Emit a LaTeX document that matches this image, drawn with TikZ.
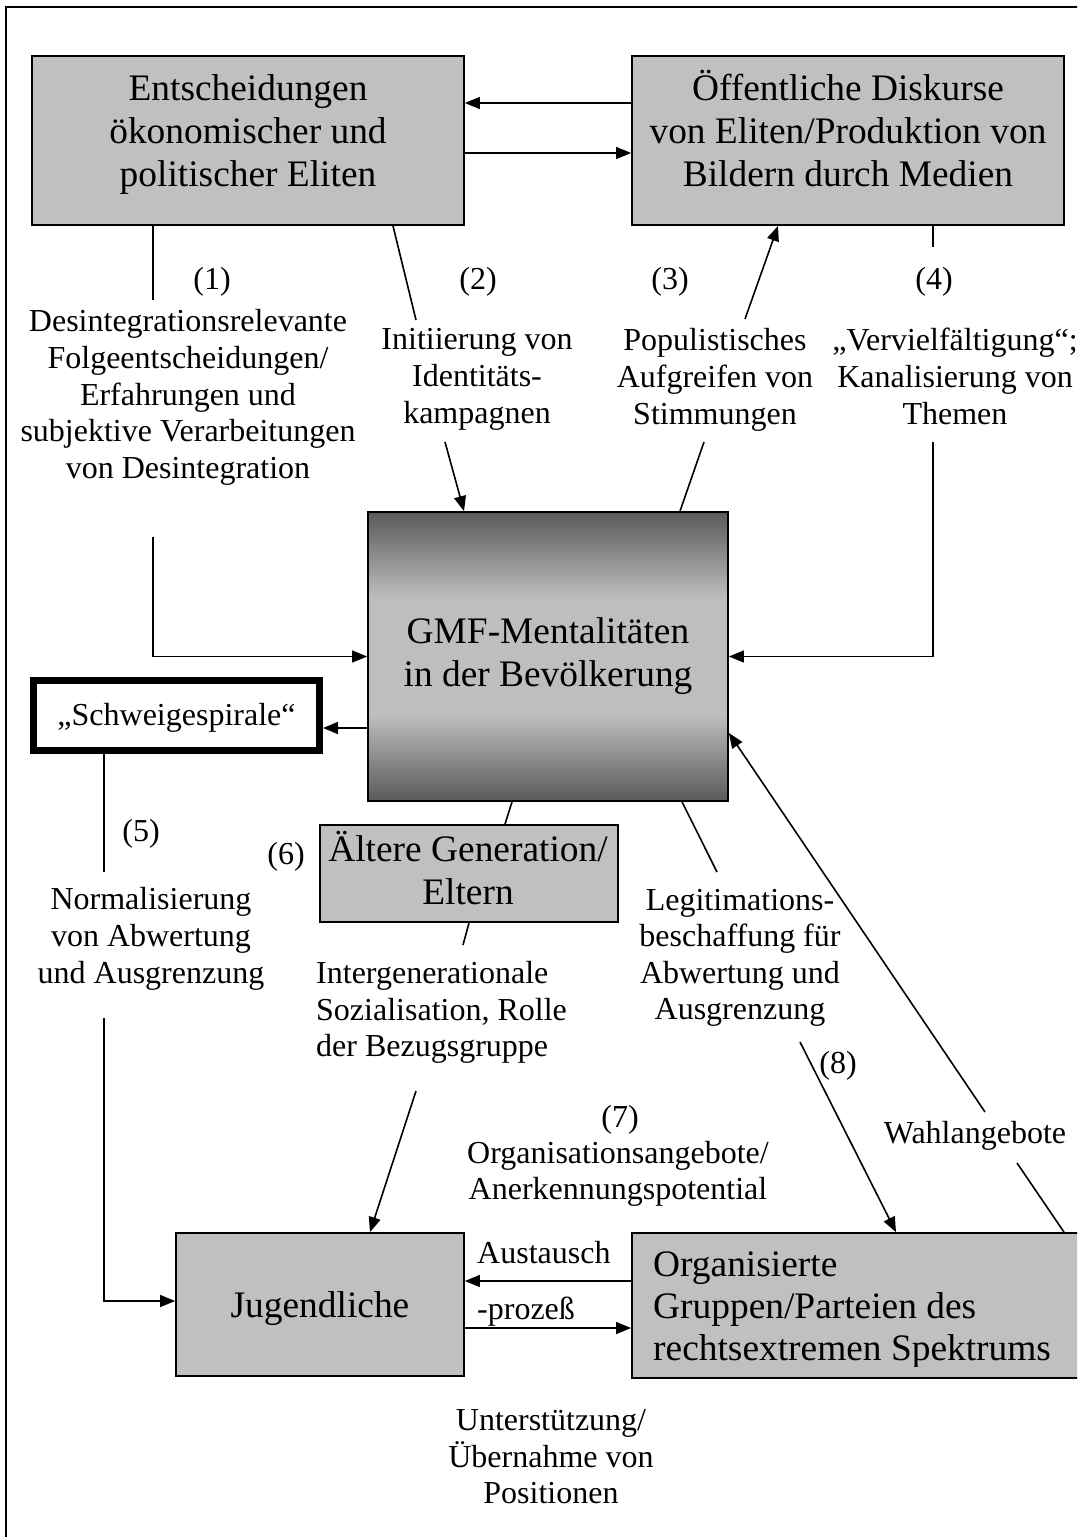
\documentclass[tikz,border=0pt]{standalone}
\usepackage{fontspec}
\setmainfont{Liberation Serif}
\usetikzlibrary{arrows.meta,calc}
\definecolor{boxgray}{HTML}{C0C0C0}
\definecolor{gdark}{HTML}{5A5A5A}
\definecolor{glight}{HTML}{BEBEBE}
\pgfdeclareverticalshading{gmfshade}{100bp}{color(0bp)=(gdark); color(25bp)=(gdark); color(40bp)=(glight); color(60bp)=(glight); color(75bp)=(gdark); color(100bp)=(gdark)}
\newcommand{\labfont}{\fontsize{32}{36.6}\selectfont}
\newcommand{\boxfont}{\fontsize{37.4}{43}\selectfont}
\newcommand{\orgfont}{\fontsize{37.4}{42}\selectfont}
\newcommand{\mytop}{\rule{0pt}{0.95em}}
\newcommand{\mybot}{\rule[-0.3em]{0pt}{0.3em}}
\begin{document}
\begin{tikzpicture}[x=1pt,y=-1pt,
  box/.style={draw, line width=1.8pt, fill=boxgray, inner sep=0pt},
  lab/.style={font=\labfont, align=center, inner sep=0pt},
  btx/.style={font=\boxfont, align=center, inner sep=0pt},
  con/.style={line width=1.6pt},
  arr/.style={line width=1.6pt, -{Triangle[length=15pt,width=12pt]}}]
\useasboundingbox (0,0) rectangle (1077,1537);
\fill[white] (0,0) rectangle (1077,1537);
\clip (0,0) rectangle (1077,1537);
\draw[line width=2pt] (6,1545) -- (6,7) -- (1085,7);

% boxes
\node[box, minimum width=432pt, minimum height=169pt] (b1) at (248,140.5) {};
\node[box, minimum width=432pt, minimum height=169pt] (b2) at (848,140.5) {};
\node[draw, line width=1.8pt, shade, shading=gmfshade, minimum width=360pt, minimum height=289pt, inner sep=0pt] (gmf) at (548,656.5) {};
\node[draw, line width=7pt, fill=white, minimum width=286pt, minimum height=70pt, inner sep=0pt, font=\labfont] (schw) at (176.5,715.5) {\mytop„Schweigespirale“\mybot};
\node[box, minimum width=298pt, minimum height=97pt] (alt) at (469,873.5) {};
\node[box, minimum width=288pt, minimum height=143pt] (jug) at (320,1304.5) {};
\node[box, minimum width=468pt, minimum height=145pt] (org) at (866,1305.5) {};

% box texts
\node[btx] (b1t) at (248,131.3) {\mytop Entscheidungen\\ökonomischer und\\politischer Eliten\mybot};
\node[btx] (b2t) at (848,131.3) {\mytop Öffentliche Diskurse\\von Eliten/Produktion von\\Bildern durch Medien\mybot};
\node[btx] (gmft) at (548,652.8) {\mytop GMF-Mentalitäten\\in der Bevölkerung\mybot};
\node[btx] (altt) at (468,871.3) {\mytop Ältere Generation/\\Eltern\mybot};
\node[btx] (jugt) at (320,1305.8) {\mytop Jugendliche\mybot};
\begin{scope}
\clip (632,1233) rectangle (1077,1366);
\node[font=\orgfont, align=left, inner sep=0pt, anchor=west] (orgt) at (653,1306.8) {\mytop Organisierte\\Gruppen/Parteien des\\rechtsextremen Spektrums\mybot};
\end{scope}

% labels
\node[lab] (n1) at (212,278.6) {\mytop(1)\mybot};
\node[lab] (n2) at (478,278.6) {\mytop(2)\mybot};
\node[lab] (n3) at (670,278.6) {\mytop(3)\mybot};
\node[lab] (n4) at (934,278.6) {\mytop(4)\mybot};
\node[lab] (l1) at (188,394.6) {\mytop Desintegrationsrelevante\\Folgeentscheidungen/\\Erfahrungen und\\subjektive Verarbeitungen\\von Desintegration\mybot};
\node[lab] (l2) at (477,376) {\mytop Initiierung von\\Identitäts-\\kampagnen\mybot};
\node[lab] (l3) at (715,377) {\mytop Populistisches\\Aufgreifen von\\Stimmungen\mybot};
\node[lab] (l4) at (955,377) {\mytop„Vervielfältigung“;\\Kanalisierung von\\Themen\mybot};
\node[lab] (n5) at (141,830.8) {\mytop(5)\mybot};
\node[lab] (n6) at (286,853.8) {\mytop(6)\mybot};
\node[lab] (l5) at (151,936.1) {\mytop Normalisierung\\von Abwertung\\und Ausgrenzung\mybot};
\node[lab, align=left, anchor=west] (l6) at (316,1009.6) {\mytop Intergenerationale\\Sozialisation, Rolle\\der Bezugsgruppe\mybot};
\node[lab] (l7) at (740,954.6) {\mytop Legitimations-\\beschaffung für\\Abwertung und\\Ausgrenzung\mybot};
\node[lab] (n8) at (838,1062.6) {\mytop(8)\mybot};
\node[lab] (n7) at (620,1117.3) {\mytop(7)\mybot};
\node[lab] (l8) at (618,1171) {\mytop Organisationsangebote/\\Anerkennungspotential\mybot};
\node[lab] (l9) at (975,1132.6) {\mytop Wahlangebote\mybot};
\node[lab, anchor=base west] (l10) at (477,1263) {Austausch};
\node[lab, anchor=base west] (l11) at (477,1319) {-prozeß};
\node[lab] (l12) at (551,1456.6) {\mytop Unterstützung/\\Übernahme von\\Positionen\mybot};

% connectors between the top boxes
\draw[arr] ([yshift=37.5pt]b2.west) -- ([yshift=37.5pt]b1.east);
\draw[arr] ([yshift=-12.5pt]b1.east) -- ([yshift=-12.5pt]b2.west);

% (1)
\coordinate (c1a) at (153,300);
\coordinate (c1b) at (153,537);
\draw[con] (c1a |- b1.south) -- (c1a);
\draw[arr] (c1b) |- (gmf.west);
% (2)
\coordinate (c2a) at (416,320);
\coordinate (c2b) at (445,442);
\draw[con] ([xshift=145pt]b1.south) -- (c2a);
\draw[arr] (c2b) -- ([xshift=-84pt]gmf.north);
% (3)
\coordinate (c3a) at (745,319);
\coordinate (c3b) at (704,442);
\draw[con] ([xshift=132pt]gmf.north) -- (c3b);
\draw[arr] (c3a) -- ([xshift=-70pt]b2.south);
% (4)
\coordinate (c4a) at (933,247);
\coordinate (c4b) at (933,442);
\draw[con] (c4a |- b2.south) -- (c4a);
\draw[arr] (c4b) |- (gmf.east);
% Schweigespirale
\coordinate (sA) at ([yshift=-71.5pt]gmf.west);
\draw[arr] (sA) -- (sA -| schw.east);
% (5)
\coordinate (c5a) at (104,872);
\coordinate (c5b) at (104,1018);
\draw[con] (c5a |- schw.south) -- (c5a);
\draw[arr] (c5b) |- ([yshift=3.5pt]jug.west);
% (6)
\draw[con] ([xshift=-36pt]gmf.south) -- ([xshift=36pt]alt.north);
\coordinate (c6a) at (463,945);
\coordinate (c6b) at (416,1091);
\draw[con] (alt.south) -- (c6a);
\draw[arr] (c6b) -- ([xshift=50pt]jug.north);
% (8)
\coordinate (c8a) at (717,872);
\coordinate (c8b) at (800,1042);
\draw[con] ([xshift=134pt]gmf.south) -- (c8a);
\draw[arr] (c8b) -- ([xshift=30pt]org.north);
% Austausch
\coordinate (oA) at ([yshift=24.5pt]org.west);
\coordinate (oB) at ([yshift=-22.5pt]org.west);
\draw[arr] (oA) -- (oA -| jug.east);
\draw[arr] (oB -| jug.east) -- (oB);
% Wahlangebote
\coordinate (c9a) at (985,1112);
\coordinate (c9b) at (1017,1163);
\draw[arr] (c9a) -- ([yshift=-76.5pt]gmf.east);
\draw[con] ([xshift=198pt]org.north) -- (c9b);
\end{tikzpicture}
\end{document}
